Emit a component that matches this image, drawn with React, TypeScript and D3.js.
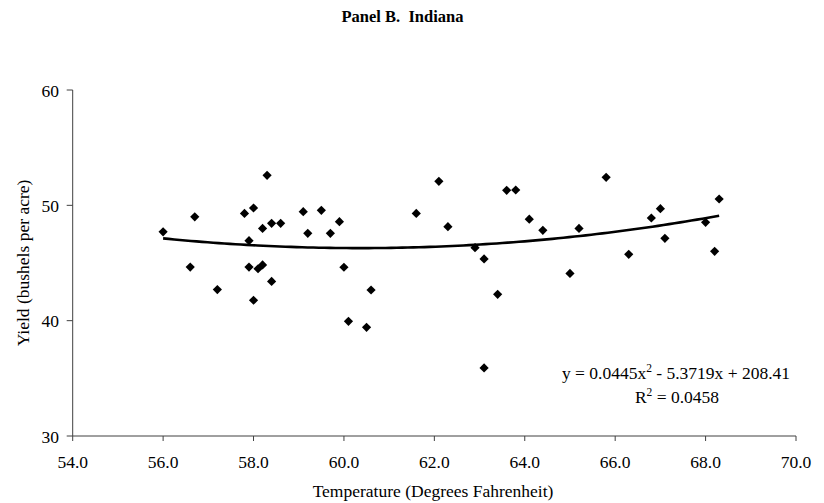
import React from "react";
import * as d3 from "d3";

const temps = [56.0, 56.7, 56.6, 57.2, 57.8, 58.0, 57.9, 57.9, 58.1, 58.2, 58.0, 58.2, 58.3, 58.4, 58.4, 58.6, 59.1, 59.2, 59.5, 59.7, 59.9, 60.0, 60.1, 60.6, 60.5, 61.6, 62.1, 62.3, 62.9, 63.1, 63.4, 63.1, 63.6, 63.8, 64.1, 64.4, 65.0, 65.2, 65.8, 66.3, 66.8, 67.0, 67.1, 68.0, 68.2, 68.3];
const yields = [47.7, 49.0, 44.65, 42.7, 49.3, 49.77, 46.94, 44.65, 44.5, 44.83, 41.77, 48.0, 52.6, 48.44, 43.4, 48.44, 49.45, 47.57, 49.57, 47.57, 48.58, 44.63, 39.94, 42.66, 39.42, 49.3, 52.08, 48.15, 46.33, 45.35, 42.28, 35.9, 51.3, 51.33, 48.8, 47.83, 44.1, 48.0, 52.43, 45.75, 48.9, 49.71, 47.14, 48.53, 46.01, 50.55];
const xTicks = [54, 56, 58, 60, 62, 64, 66, 68, 70];
const yTicks = [30, 40, 50, 60];
const coef = [0.0445, -5.3719, 208.41];
const title = "Panel B.  Indiana";

export default function App() {
  const W = 824, H = 503;
  const x = d3.scaleLinear().domain([54, 70]).range([72.7, 796]);
  const y = d3.scaleLinear().domain([30, 60]).range([436, 90]);
  const fit = (t: number) => coef[0] * t * t + coef[1] * t + coef[2];
  const xMin = d3.min(temps)!, xMax = d3.max(temps)!;
  const curvePts = d3.range(0, 101).map((i) => {
    const t = xMin + ((xMax - xMin) * i) / 100;
    return [x(t), y(fit(t))] as [number, number];
  });
  const line = d3.line().curve(d3.curveLinear)(curvePts) || "";
  const r = 4.6;
  const font = "'Liberation Serif', 'Times New Roman', serif";
  const axisColor = "#404040";
  const fs = 17.5;
  return (
    <svg width={W} height={H} style={{ position: "absolute", left: 0, top: 0, background: "#fff" }} fontFamily={font}>
      <text x={402.5} y={22} textAnchor="middle" fontSize={16.5} fontWeight="bold" style={{ whiteSpace: "pre" }}>{title}</text>
      {/* axes */}
      <line x1={x(54)} x2={x(54)} y1={y(60)} y2={y(30)} stroke={axisColor} strokeWidth={1} />
      <line x1={x(54)} x2={x(70)} y1={y(30)} y2={y(30)} stroke={axisColor} strokeWidth={1} />
      {yTicks.map((t) => (
        <g key={"y" + t}>
          <line x1={x(54) - 6} x2={x(54)} y1={y(t)} y2={y(t)} stroke={axisColor} />
          <text x={59} y={y(t) + 6.5} textAnchor="end" fontSize={fs}>{t}</text>
        </g>
      ))}
      {xTicks.map((t) => (
        <g key={"x" + t}>
          <line x1={x(t)} x2={x(t)} y1={y(30)} y2={y(30) + 5} stroke={axisColor} />
          <text x={x(t)} y={467.5} textAnchor="middle" fontSize={fs}>{t.toFixed(1)}</text>
        </g>
      ))}
      <text x={433} y={497} textAnchor="middle" fontSize={fs}>Temperature (Degrees Fahrenheit)</text>
      <text transform={`translate(28.5,263) rotate(-90)`} textAnchor="middle" fontSize={fs}>Yield (bushels per acre)</text>
      {/* points */}
      {temps.map((t, i) => {
        const cx = x(t), cy = y(yields[i]);
        return <path key={i} d={`M${cx},${cy - r}L${cx + r},${cy}L${cx},${cy + r}L${cx - r},${cy}Z`} fill="#000" />;
      })}
      <path d={line} fill="none" stroke="#000" strokeWidth={2.6} />
      <text x={676} y={379} textAnchor="middle" fontSize={fs}>
        y = 0.0445x<tspan dy={-7} fontSize={11.5}>2</tspan><tspan dy={7}> - 5.3719x + 208.41</tspan>
      </text>
      <text x={677} y={403} textAnchor="middle" fontSize={fs}>
        R<tspan dy={-7} fontSize={11.5}>2</tspan><tspan dy={7}> = 0.0458</tspan>
      </text>
    </svg>
  );
}
